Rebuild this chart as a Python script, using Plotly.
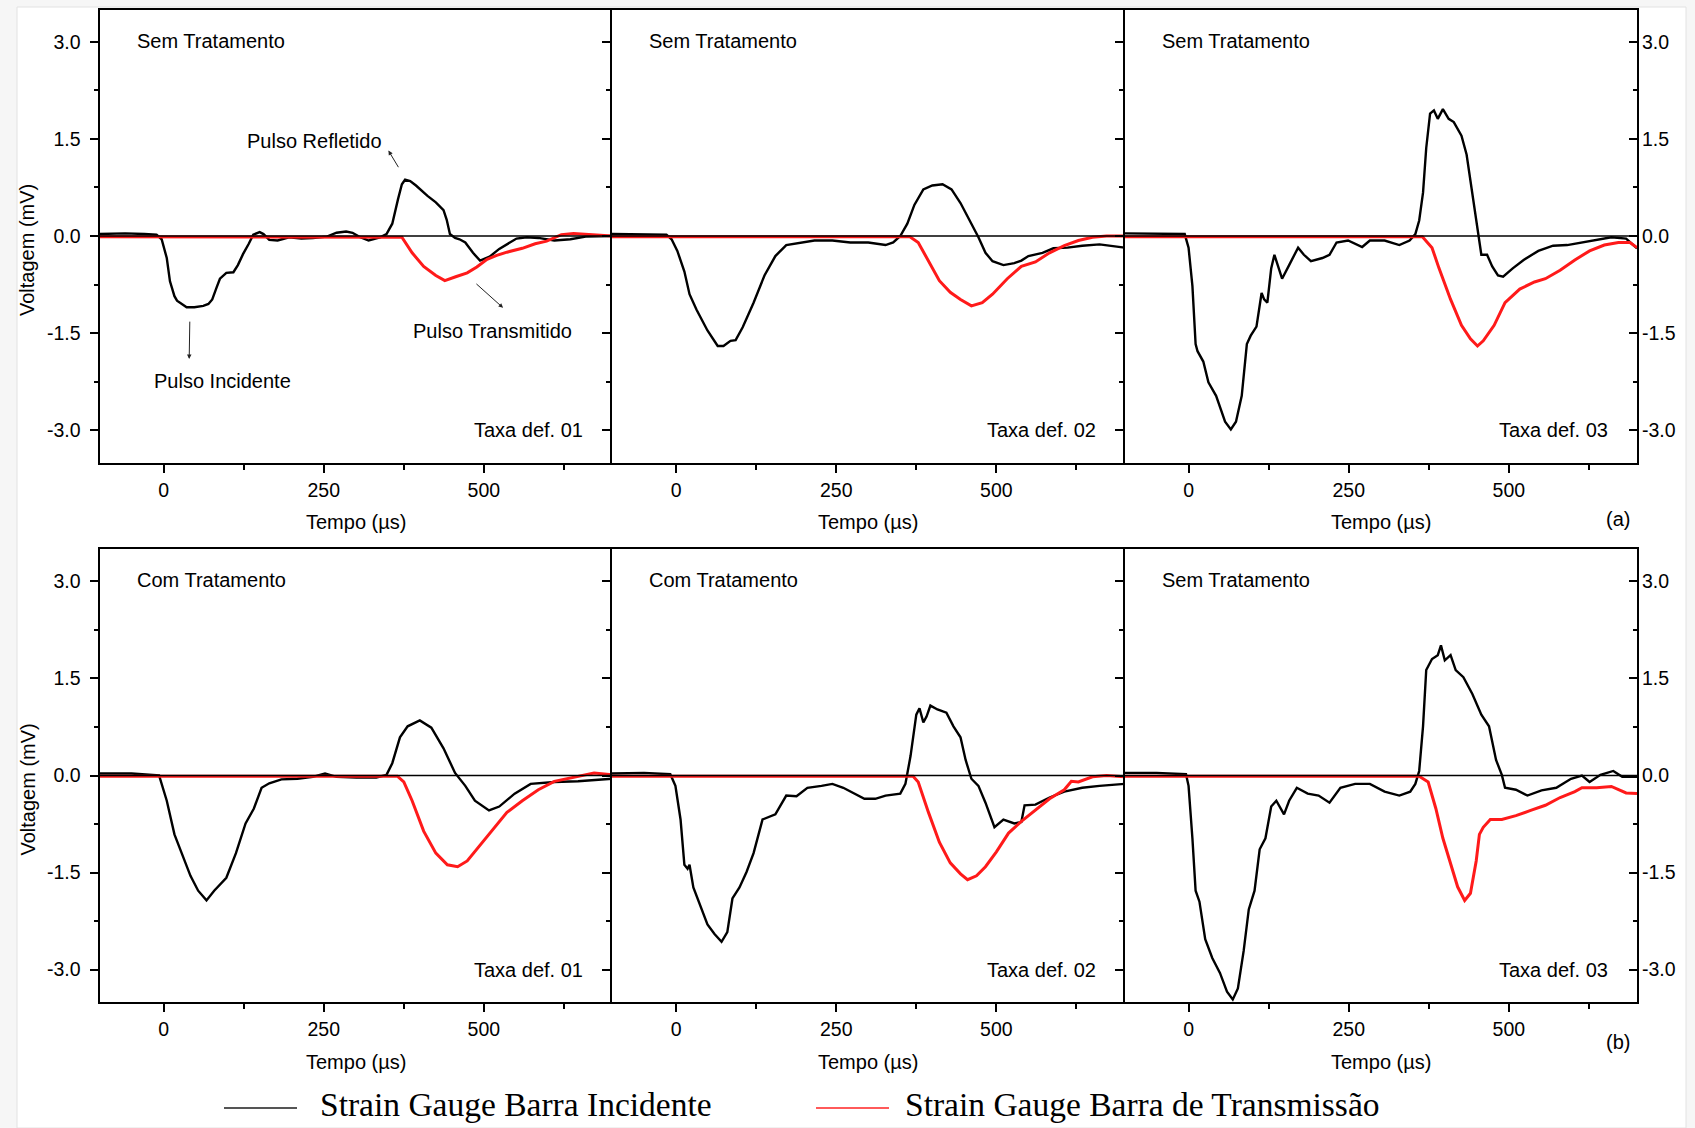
import plotly.graph_objects as go

# ---------------- data (time in µs, voltage in mV) ----------------
t_a1_inc = [-100,-60,-30,-11,-3,5,10,17,21,28,36,48,62,70,76,83,88,98,109,116,124,133,140,150,156,165,178,196,215,233,255,270,285,295,305,320,338,348,357,366,372,377,385,394,412,425,437,442,447,455,462,471,483,494,509,524,551,567,585,610,635,659,700]
v_a1_inc = [0.03,0.04,0.03,0.02,-0.05,-0.34,-0.70,-0.93,-1.00,-1.05,-1.10,-1.10,-1.08,-1.05,-0.98,-0.79,-0.66,-0.57,-0.56,-0.45,-0.28,-0.12,0.02,0.06,0.03,-0.06,-0.07,-0.02,-0.04,-0.03,-0.01,0.05,0.07,0.05,-0.01,-0.07,-0.02,0.03,0.19,0.57,0.80,0.87,0.85,0.78,0.62,0.52,0.40,0.25,0.03,-0.03,-0.05,-0.10,-0.26,-0.38,-0.32,-0.20,-0.04,-0.02,-0.03,-0.07,-0.05,-0.01,0.00]
t_a1_tra = [-100,365,372,388,406,425,439,456,474,489,505,520,536,560,580,598,621,640,659,700]
v_a1_tra = [-0.01,-0.01,-0.02,-0.26,-0.47,-0.61,-0.69,-0.63,-0.57,-0.48,-0.36,-0.30,-0.25,-0.19,-0.12,-0.08,0.02,0.04,0.03,0.00]

t_a2_inc = [-100,-50,-15,-7,2,13,21,32,49,65,74,85,93,104,121,138,155,172,194,216,244,272,300,327,339,350,361,372,386,400,416,430,444,461,472,483,494,511,528,539,550,572,589,611,634,661,678,700]
v_a2_inc = [0.03,0.03,0.02,-0.05,-0.23,-0.55,-0.90,-1.14,-1.46,-1.70,-1.70,-1.62,-1.61,-1.41,-1.03,-0.61,-0.31,-0.14,-0.10,-0.07,-0.07,-0.10,-0.10,-0.14,-0.10,0.00,0.19,0.48,0.72,0.78,0.80,0.72,0.51,0.19,-0.02,-0.26,-0.39,-0.45,-0.42,-0.38,-0.31,-0.26,-0.19,-0.18,-0.15,-0.13,-0.15,-0.18]
t_a2_tra = [-100,365,378,394,411,428,444,461,478,494,517,539,561,583,606,628,650,672,700]
v_a2_tra = [-0.01,-0.01,-0.10,-0.39,-0.69,-0.87,-0.98,-1.08,-1.03,-0.90,-0.66,-0.47,-0.40,-0.26,-0.15,-0.07,-0.02,0.00,0.00]

t_a3_inc = [-100,-50,-6,0,6,11,14,23,31,43,49,57,66,74,83,91,97,106,114,118,123,129,134,146,157,171,180,191,209,220,231,249,271,283,306,329,345,354,360,366,371,377,383,389,397,406,414,426,434,443,451,457,466,474,483,491,506,523,546,569,591,614,637,660,683,700]
v_a3_inc = [0.04,0.04,0.03,-0.18,-0.77,-1.67,-1.78,-1.94,-2.26,-2.47,-2.63,-2.87,-2.99,-2.87,-2.47,-1.67,-1.54,-1.40,-0.88,-0.98,-1.03,-0.50,-0.29,-0.66,-0.45,-0.18,-0.29,-0.39,-0.34,-0.29,-0.10,-0.07,-0.17,-0.07,-0.07,-0.14,-0.07,0.03,0.24,0.67,1.36,1.89,1.94,1.81,1.96,1.81,1.76,1.55,1.26,0.67,0.09,-0.29,-0.29,-0.47,-0.61,-0.63,-0.50,-0.37,-0.23,-0.15,-0.14,-0.10,-0.06,-0.02,-0.04,-0.19]
t_a3_tra = [-100,365,380,391,409,426,440,451,460,477,494,517,540,557,580,603,626,649,671,689,700]
v_a3_tra = [-0.01,-0.01,-0.18,-0.50,-0.98,-1.38,-1.59,-1.70,-1.62,-1.38,-1.03,-0.82,-0.71,-0.66,-0.53,-0.37,-0.23,-0.14,-0.10,-0.10,-0.18]

t_b1_inc = [-100,-50,-7,5,17,30,42,54,67,79,98,113,128,141,153,165,184,209,233,252,270,301,332,348,357,369,381,400,418,437,455,471,486,508,524,548,573,610,647,700]
v_b1_inc = [0.03,0.03,0.00,-0.39,-0.91,-1.26,-1.55,-1.78,-1.93,-1.78,-1.58,-1.20,-0.74,-0.51,-0.19,-0.12,-0.06,-0.05,-0.02,0.03,-0.02,-0.03,-0.03,0.01,0.19,0.59,0.76,0.85,0.74,0.42,0.04,-0.16,-0.39,-0.54,-0.48,-0.28,-0.13,-0.10,-0.09,-0.05]
t_b1_tra = [-100,365,375,388,406,425,443,459,474,493,511,536,560,585,610,641,672,700]
v_b1_tra = [-0.01,-0.01,-0.10,-0.39,-0.86,-1.20,-1.38,-1.41,-1.32,-1.09,-0.86,-0.57,-0.39,-0.22,-0.09,-0.02,0.04,0.01]

t_b2_inc = [-100,-50,-9,-1,7,13,18,21,27,38,49,60,71,80,88,99,110,121,135,155,172,188,205,227,244,261,278,294,311,327,350,358,366,375,380,386,391,397,408,422,433,444,452,461,472,483,497,511,528,539,544,561,583,606,634,661,700]
v_b2_inc = [0.03,0.04,0.02,-0.16,-0.68,-1.38,-1.44,-1.38,-1.73,-2.01,-2.30,-2.45,-2.57,-2.42,-1.90,-1.73,-1.49,-1.20,-0.68,-0.60,-0.31,-0.32,-0.19,-0.16,-0.13,-0.19,-0.28,-0.36,-0.36,-0.31,-0.28,-0.13,0.30,0.94,1.04,0.82,0.91,1.08,1.02,0.97,0.76,0.59,0.24,-0.05,-0.16,-0.42,-0.80,-0.68,-0.74,-0.72,-0.46,-0.45,-0.34,-0.25,-0.19,-0.16,-0.13]
t_b2_tra = [-100,370,378,394,411,428,444,455,469,483,500,519,539,561,583,606,617,628,650,672,700]
v_b2_tra = [-0.01,-0.01,-0.10,-0.57,-1.03,-1.35,-1.52,-1.61,-1.55,-1.41,-1.18,-0.89,-0.71,-0.54,-0.36,-0.22,-0.09,-0.10,-0.02,0.00,-0.02]

t_b3_inc = [-100,-50,-4,0,6,11,17,26,37,49,60,69,77,86,94,103,111,120,129,137,149,157,169,186,203,220,237,260,283,306,329,346,354,360,366,371,380,389,394,400,409,417,429,443,457,469,480,489,494,511,529,551,574,597,614,626,643,663,677,700]
v_b3_inc = [0.04,0.04,0.02,-0.16,-0.97,-1.78,-1.95,-2.53,-2.82,-3.05,-3.34,-3.46,-3.29,-2.71,-2.07,-1.78,-1.14,-0.97,-0.48,-0.39,-0.60,-0.39,-0.19,-0.28,-0.31,-0.42,-0.19,-0.13,-0.13,-0.25,-0.31,-0.25,-0.13,0.07,0.76,1.63,1.80,1.86,2.01,1.78,1.86,1.63,1.52,1.26,0.94,0.76,0.24,0.01,-0.19,-0.22,-0.31,-0.23,-0.19,-0.05,0.00,-0.10,0.01,0.07,-0.02,-0.02]
t_b3_tra = [-100,360,374,386,397,409,420,431,440,449,454,460,471,489,511,534,557,580,603,614,637,660,683,700]
v_b3_tra = [-0.01,-0.01,-0.10,-0.51,-0.97,-1.38,-1.72,-1.93,-1.82,-1.32,-0.91,-0.80,-0.68,-0.68,-0.62,-0.54,-0.46,-0.34,-0.25,-0.19,-0.19,-0.17,-0.27,-0.28]

panel_inc = [(t_a1_inc, v_a1_inc), (t_a2_inc, v_a2_inc), (t_a3_inc, v_a3_inc),
             (t_b1_inc, v_b1_inc), (t_b2_inc, v_b2_inc), (t_b3_inc, v_b3_inc)]
panel_tra = [(t_a1_tra, v_a1_tra), (t_a2_tra, v_a2_tra), (t_a3_tra, v_a3_tra),
             (t_b1_tra, v_b1_tra), (t_b2_tra, v_b2_tra), (t_b3_tra, v_b3_tra)]

treat_labels = ["Sem Tratamento", "Sem Tratamento", "Sem Tratamento",
                "Com Tratamento", "Com Tratamento", "Sem Tratamento"]
rate_labels = ["Taxa def. 01", "Taxa def. 02", "Taxa def. 03",
               "Taxa def. 01", "Taxa def. 02", "Taxa def. 03"]

x_tickvals = [0, 250, 500]
x_ticktext = ["0", "250", "500"]
x_minor = [125, 375, 625]
y_tickvals = [-3.0, -1.5, 0.0, 1.5, 3.0]
y_ticktext = ["-3.0", "-1.5", "0.0", "1.5", "3.0"]
y_minor = [-2.25, -0.75, 0.75, 2.25]
x_range = [-100, 700]
y_range = [-3.5, 3.5]

legend_names = ["Strain Gauge Barra Incidente", "Strain Gauge Barra de Transmissão"]

# ---------------- layout geometry (pixels) ----------------
W, H = 1695, 1128
col_px = [(99.5, 612.0), (612.0, 1124.5), (1124.5, 1637.0)]
row_px = [(9.5, 462.5), (549.0, 1002.0)]

SANS = "Liberation Sans, Arial, sans-serif"
SERIF = "Liberation Serif, Times New Roman, serif"
FS = 20
TFS = 19.5

fig = go.Figure()

def ax_id(k):
    return "" if k == 1 else str(k)

for i in range(6):
    k = i + 1
    xs, ys = "x" + ax_id(k), "y" + ax_id(k)
    ti, vi = panel_inc[i]
    tt, vt = panel_tra[i]
    fig.add_trace(go.Scatter(x=ti, y=vi, mode="lines", xaxis=xs, yaxis=ys,
                             line=dict(color="black", width=2.4), showlegend=False,
                             name=legend_names[0]))
    fig.add_trace(go.Scatter(x=tt, y=vt, mode="lines", xaxis=xs, yaxis=ys,
                             line=dict(color="#ff1a1a", width=3), showlegend=False,
                             name=legend_names[1]))

# zero reference lines (panels 3 and 6 on their right-hand axes)
for i in range(6):
    k = i + 1
    xs = "x" + ax_id(k)
    if k == 3:
        ys = "y7"
    elif k == 6:
        ys = "y8"
    else:
        ys = "y" + ax_id(k)
    fig.add_trace(go.Scatter(x=x_range, y=[0, 0], mode="lines", xaxis=xs, yaxis=ys,
                             line=dict(color="black", width=1.6), showlegend=False,
                             hoverinfo="skip"))

layout = dict(width=W, height=H, margin=dict(l=0, r=0, t=0, b=0),
              paper_bgcolor="#f6f6f6", plot_bgcolor="white", showlegend=False,
              font=dict(family=SANS, size=FS, color="black"))

for i in range(6):
    k = i + 1
    r, c = divmod(i, 3)
    x0, x1 = col_px[c]
    y0, y1 = row_px[r]
    xd = [x0 / W, x1 / W]
    yd = [1 - y1 / H, 1 - y0 / H]
    layout["xaxis" + ax_id(k)] = dict(
        domain=xd, range=x_range, anchor="y" + ax_id(k),
        showline=True, mirror=True, linecolor="black", linewidth=2,
        showgrid=False, zeroline=False,
        tickmode="array", tickvals=x_tickvals, ticktext=x_ticktext,
        ticks="outside", ticklen=8, tickwidth=1.6, tickcolor="black",
        ticklabelstandoff=1,
        minor=dict(tickmode="array", tickvals=x_minor, ticks="outside",
                   ticklen=5, tickwidth=1.6, tickcolor="black"),
        tickfont=dict(family=SANS, size=TFS, color="black"),
    )
    layout["yaxis" + ax_id(k)] = dict(
        domain=yd, range=y_range, anchor="x" + ax_id(k),
        showline=True, mirror=(c == 2), linecolor="black", linewidth=2,
        showgrid=False, zeroline=False,
        tickmode="array", tickvals=y_tickvals, ticktext=y_ticktext,
        showticklabels=(c == 0),
        ticks="outside", ticklen=8, tickwidth=1.6, tickcolor="black",
        ticklabelstandoff=5,
        minor=dict(tickmode="array", tickvals=y_minor, ticks="outside",
                   ticklen=4, tickwidth=1.6, tickcolor="black"),
        tickfont=dict(family=SANS, size=TFS, color="black"),
    )

for name, base in (("yaxis7", 3), ("yaxis8", 6)):
    layout[name] = dict(
        overlaying="y" + ax_id(base), anchor="x" + ax_id(base), side="right",
        range=y_range, showline=False, showgrid=False, zeroline=False,
        tickmode="array", tickvals=y_tickvals, ticktext=y_ticktext,
        ticks="inside", ticklen=8, tickwidth=1.6, tickcolor="black",
        ticklabelstandoff=4,
        minor=dict(tickmode="array", tickvals=y_minor, ticks="inside",
                   ticklen=4, tickwidth=1.6, tickcolor="black"),
        tickfont=dict(family=SANS, size=TFS, color="black"),
    )

annotations = []
for i in range(6):
    k = i + 1
    xs, ys = "x" + ax_id(k), "y" + ax_id(k)
    annotations.append(dict(x=-45, y=3.02, xref=xs, yref=ys, text=treat_labels[i],
                            showarrow=False, xanchor="left", yanchor="middle",
                            font=dict(family=SANS, size=FS, color="black")))
    annotations.append(dict(x=658, y=-3.0, xref=xs, yref=ys, text=rate_labels[i],
                            showarrow=False, xanchor="right", yanchor="middle",
                            font=dict(family=SANS, size=FS, color="black")))

# axis titles
for r, (y0, y1) in enumerate(row_px):
    ty = y1 + 59.5
    for c, (x0, x1) in enumerate(col_px):
        annotations.append(dict(x=(x0 + x1) / 2 / W, y=1 - ty / H, xref="paper", yref="paper",
                                text="Tempo (µs)", showarrow=False,
                                xanchor="center", yanchor="middle",
                                font=dict(family=SANS, size=FS, color="black")))
    annotations.append(dict(x=27 / W, y=1 - (y0 + 240.5) / H, xref="paper", yref="paper",
                            text="Voltagem (mV)", textangle=-90, showarrow=False,
                            xanchor="center", yanchor="middle",
                            font=dict(family=SANS, size=FS, color="black")))

annotations.append(dict(x=1631.5 / W, y=1 - 519 / H, xref="paper", yref="paper", text="(a)",
                        showarrow=False, font=dict(family=SANS, size=FS, color="black")))
annotations.append(dict(x=1631.5 / W, y=1 - 1055 / H, xref="paper", yref="paper", text="(b)",
                        showarrow=False, font=dict(family=SANS, size=FS, color="black")))

# pulse labels and arrows (panel 1)
annotations += [
    dict(x=236, y=1.47, xref="x", yref="y", text="Pulso Refletido", showarrow=False,
         font=dict(family=SANS, size=FS, color="black")),
    dict(x=514, y=-1.475, xref="x", yref="y", text="Pulso Transmitido", showarrow=False,
         font=dict(family=SANS, size=FS, color="black")),
    dict(x=92, y=-2.24, xref="x", yref="y", text="Pulso Incidente", showarrow=False,
         font=dict(family=SANS, size=FS, color="black")),
    dict(x=351, y=1.32, ax=368, ay=1.04, xref="x", yref="y", axref="x", ayref="y",
         text="", showarrow=True, arrowhead=2, arrowsize=0.9, arrowwidth=1, arrowcolor="#222"),
    dict(x=530, y=-1.11, ax=486, ay=-0.72, xref="x", yref="y", axref="x", ayref="y",
         text="", showarrow=True, arrowhead=2, arrowsize=0.9, arrowwidth=1, arrowcolor="#222"),
    dict(x=40, y=-1.90, ax=41, ay=-1.30, xref="x", yref="y", axref="x", ayref="y",
         text="", showarrow=True, arrowhead=2, arrowsize=0.9, arrowwidth=1, arrowcolor="#222"),
]

# legend (drawn)
LY = 1104
annotations.append(dict(x=319 / W, y=1 - LY / H, xref="paper", yref="paper", text=legend_names[0],
                        showarrow=False, xanchor="left", yanchor="middle", borderpad=0,
                        font=dict(family=SERIF, size=33.5, color="black")))
annotations.append(dict(x=904 / W, y=1 - LY / H, xref="paper", yref="paper", text=legend_names[1],
                        showarrow=False, xanchor="left", yanchor="middle", borderpad=0,
                        font=dict(family=SERIF, size=33.5, color="black")))

shapes = [
    dict(type="rect", xref="paper", yref="paper", x0=17 / W, x1=1686 / W, y0=0, y1=1 - 7 / H,
         fillcolor="white", line=dict(color="#e2e2e2", width=1), layer="below"),
    dict(type="line", xref="paper", yref="paper", x0=224 / W, x1=297 / W,
         y0=1 - (LY + 4) / H, y1=1 - (LY + 4) / H, line=dict(color="#555555", width=2)),
    dict(type="line", xref="paper", yref="paper", x0=816 / W, x1=889 / W,
         y0=1 - (LY + 4) / H, y1=1 - (LY + 4) / H, line=dict(color="#ff5a5a", width=2)),
]

layout["annotations"] = annotations
layout["shapes"] = shapes
fig.update_layout(**layout)

fig.write_html("out.html")
